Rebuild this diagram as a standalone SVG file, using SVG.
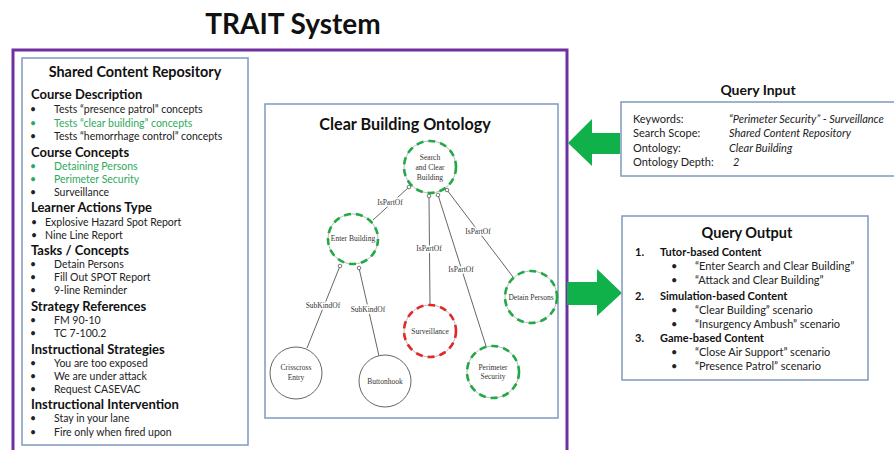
<svg xmlns="http://www.w3.org/2000/svg" width="894" height="450" viewBox="0 0 894 450">
<style>
.h{font-family:Lato,"Liberation Sans",sans-serif;font-weight:bold;fill:#111}
.t{font-family:Lato,"Liberation Sans",sans-serif;fill:#222;font-size:10.5px}
.q{font-family:Lato,"Liberation Sans",sans-serif;fill:#222;font-size:11px}
.g{fill:#2EAA5C}
.box{fill:#fff;stroke:#7F99BF;stroke-width:1.5}
.n{font-family:"Liberation Serif",serif;font-size:7.5px;fill:#333;text-anchor:middle}
.el{font-family:"Liberation Serif",serif;font-size:7.5px;fill:#333;text-anchor:middle;paint-order:stroke;stroke:#fff;stroke-width:3px}
.edge{stroke:#666;stroke-width:1;fill:none}
.base{fill:#fff;stroke:#aaa;stroke-width:0.8}
.gd{fill:none;stroke:#22A845;stroke-width:2.6;stroke-dasharray:7 5}
.rd{fill:none;stroke:#E02828;stroke-width:2.6;stroke-dasharray:7 5}
.knob{fill:#fff;stroke:#555;stroke-width:0.8}
.arrow{fill:#10B04A}
</style>
<rect width="894" height="450" fill="#fff"/>
<text class="h" x="293" y="34" font-size="28" text-anchor="middle">TRAIT System</text>
<path d="M13,452 V50 H567 V452" fill="none" stroke="#7030A0" stroke-width="3"/>

<g id="repository">
<rect class="box" x="22" y="58" width="226" height="387"/>
<text class="h" x="135" y="77" font-size="14.4" text-anchor="middle">Shared Content Repository</text>
<text class="h" x="31" y="99" font-size="13">Course Description</text>
<text class="t" x="30" y="113">•</text><text class="t" x="54" y="113">Tests “presence patrol” concepts</text>
<text class="t g" x="30" y="127">•</text><text class="t g" x="54" y="127">Tests “clear building” concepts</text>
<text class="t" x="30" y="140">•</text><text class="t" x="54" y="140">Tests “hemorrhage control” concepts</text>
<text class="h" x="31" y="157" font-size="13">Course Concepts</text>
<text class="t g" x="30" y="170">•</text><text class="t g" x="54" y="170">Detaining Persons</text>
<text class="t g" x="30" y="183">•</text><text class="t g" x="54" y="183">Perimeter Security</text>
<text class="t" x="30" y="196">•</text><text class="t" x="54" y="196">Surveillance</text>
<text class="h" x="31" y="212" font-size="13">Learner Actions Type</text>
<text class="t" x="31" y="226">•</text><text class="t" x="45" y="226">Explosive Hazard Spot Report</text>
<text class="t" x="31" y="239">•</text><text class="t" x="45" y="239">Nine Line Report</text>
<text class="h" x="31" y="255" font-size="13">Tasks / Concepts</text>
<text class="t" x="30" y="268">•</text><text class="t" x="54" y="268">Detain Persons</text>
<text class="t" x="30" y="281">•</text><text class="t" x="54" y="281">Fill Out SPOT Report</text>
<text class="t" x="30" y="294">•</text><text class="t" x="54" y="294">9-line Reminder</text>
<text class="h" x="31" y="311" font-size="13">Strategy References</text>
<text class="t" x="30" y="324">•</text><text class="t" x="54" y="324">FM 90-10</text>
<text class="t" x="30" y="337">•</text><text class="t" x="54" y="337">TC 7-100.2</text>
<text class="h" x="31" y="354" font-size="13">Instructional Strategies</text>
<text class="t" x="30" y="367">•</text><text class="t" x="54" y="367">You are too exposed</text>
<text class="t" x="30" y="380">•</text><text class="t" x="54" y="380">We are under attack</text>
<text class="t" x="30" y="393">•</text><text class="t" x="54" y="393">Request CASEVAC</text>
<text class="h" x="31" y="409" font-size="13">Instructional Intervention</text>
<text class="t" x="30" y="422">•</text><text class="t" x="54" y="422">Stay in your lane</text>
<text class="t" x="30" y="436">•</text><text class="t" x="54" y="436">Fire only when fired upon</text>
</g>

<g id="ontology-frame">
<rect class="box" x="265" y="104" width="293" height="314"/>
<text class="h" x="405" y="130" font-size="16.2" text-anchor="middle">Clear Building Ontology</text>
</g>

<g id="connectors">
<line class="edge" x1="409" y1="187" x2="373" y2="220"/>
<line class="edge" x1="429" y1="196" x2="430" y2="305"/>
<line class="edge" x1="438" y1="195" x2="486" y2="346"/>
<line class="edge" x1="447" y1="190" x2="513" y2="277"/>
<line class="edge" x1="340" y1="266" x2="307" y2="348"/>
<line class="edge" x1="359" y1="268" x2="379" y2="356"/>
<circle class="knob" cx="409" cy="187" r="1.8"/>
<circle class="knob" cx="429" cy="196" r="1.8"/>
<circle class="knob" cx="438" cy="195" r="1.8"/>
<circle class="knob" cx="447" cy="190" r="1.8"/>
<circle class="knob" cx="340" cy="266" r="1.8"/>
<circle class="knob" cx="359" cy="268" r="1.8"/>
<text class="el" x="390" y="205">IsPartOf</text>
<text class="el" x="429" y="251">IsPartOf</text>
<text class="el" x="461" y="272">IsPartOf</text>
<text class="el" x="478" y="234">IsPartOf</text>
<text class="el" x="323" y="308">SubKindOf</text>
<text class="el" x="368" y="312">SubKindOf</text>
<path class="arrow" d="M568,143 L592,119 V133 H620 V154 H592 V166 Z"/>
<path class="arrow" d="M567,282 H597 V269 L622,293 L597,316 V305 H567 Z"/>
</g>

<g id="node-search">
<circle class="base" cx="430" cy="167" r="26"/><circle class="gd" cx="430" cy="167" r="26"/>
<text class="n" x="430" y="160">Search</text><text class="n" x="430" y="170">and Clear</text><text class="n" x="430" y="180">Building</text>
</g>
<g id="node-enter">
<circle class="base" cx="353" cy="239" r="25"/><circle class="gd" cx="353" cy="239" r="25"/>
<text class="n" x="353" y="241">Enter Building</text>
</g>
<g id="node-surveillance">
<circle class="base" cx="430" cy="331" r="26"/><circle class="rd" cx="430" cy="331" r="26"/>
<text class="n" x="430" y="334">Surveillance</text>
</g>
<g id="node-detain">
<circle class="base" cx="531" cy="297" r="26"/><circle class="gd" cx="531" cy="297" r="26"/>
<text class="n" x="531" y="300">Detain Persons</text>
</g>
<g id="node-perimeter">
<circle class="base" cx="493" cy="372" r="26"/><circle class="gd" cx="493" cy="372" r="26"/>
<text class="n" x="493" y="370">Perimeter</text><text class="n" x="493" y="379">Security</text>
</g>
<g id="node-crisscross">
<circle cx="296" cy="373" r="26" fill="#fff" stroke="#666" stroke-width="1"/>
<text class="n" x="296" y="370">Crisscross</text><text class="n" x="296" y="380">Entry</text>
</g>
<g id="node-buttonhook">
<circle cx="385" cy="381" r="26" fill="#fff" stroke="#666" stroke-width="1"/>
<text class="n" x="385" y="384">Buttonhook</text>
</g>

<g id="query-input">
<text class="h" x="758" y="95" font-size="14" text-anchor="middle">Query Input</text>
<rect class="box" x="621" y="102" width="290" height="74"/>
<text class="q" x="633" y="123">Keywords:</text><text class="q" x="729" y="123" font-style="italic" font-size="11.5">“Perimeter Security” - Surveillance</text>
<text class="q" x="633" y="137">Search Scope:</text><text class="q" x="729" y="137" font-style="italic" font-size="11.5">Shared Content Repository</text>
<text class="q" x="633" y="152">Ontology:</text><text class="q" x="729" y="152" font-style="italic" font-size="11.5">Clear Building</text>
<text class="q" x="633" y="166">Ontology Depth:</text><text class="q" x="733" y="166" font-style="italic" font-size="11.5">2</text>
</g>

<g id="query-output">
<rect class="box" x="622" y="216" width="246" height="164"/>
<text class="h" x="747" y="238" font-size="14.5" text-anchor="middle">Query Output</text>
<text class="h" x="635" y="256" font-size="11">1.</text><text class="h" x="660" y="256" font-size="11">Tutor-based Content</text>
<text class="q" x="671" y="270">•</text><text class="q" x="695" y="270">“Enter Search and Clear Building”</text>
<text class="q" x="671" y="284">•</text><text class="q" x="695" y="284">“Attack and Clear Building”</text>
<text class="h" x="635" y="300" font-size="11">2.</text><text class="h" x="660" y="300" font-size="11">Simulation-based Content</text>
<text class="q" x="671" y="314">•</text><text class="q" x="695" y="314">“Clear Building” scenario</text>
<text class="q" x="671" y="328">•</text><text class="q" x="695" y="328">“Insurgency Ambush”  scenario</text>
<text class="h" x="635" y="342" font-size="11">3.</text><text class="h" x="660" y="342" font-size="11">Game-based Content</text>
<text class="q" x="671" y="356">•</text><text class="q" x="695" y="356">“Close Air Support”  scenario</text>
<text class="q" x="671" y="370">•</text><text class="q" x="695" y="370">“Presence Patrol” scenario</text>
</g>
</svg>
